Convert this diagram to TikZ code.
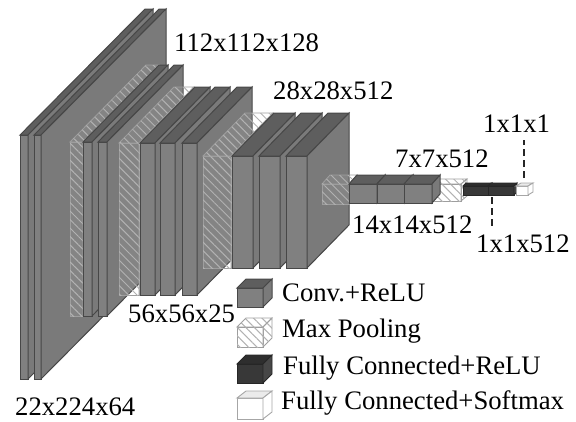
\documentclass[tikz,border=0pt]{standalone}
\usepackage{fontspec}
\setmainfont{Liberation Serif}
\usetikzlibrary{arrows.meta,positioning,patterns.meta}

% x y w h dx dy kind
\newcommand{\slab}[7]{
  \path[#7front] (#1,#2) rectangle ++(#3,#4);
  \path[#7top] (#1,#2) -- ++(#5,-#6) -- ++(#3,0) -- ++(-#5,#6) -- cycle;
  \path[#7side] (#1+#3,#2) -- ++(#5,-#6) -- ++(0,#4) -- ++(-#5,#6) -- cycle;
}

\begin{document}
\begin{tikzpicture}[
    x=1pt, y=-1pt,
    convfront/.style={draw=black!72, line width=1pt, fill=black!50},
    convtop/.style={draw=black!72, line width=1pt, fill=black!63},
    convside/.style={draw=black!72, line width=1pt, fill=black!52},
    hatched/.style={draw=black!38, line width=0.8pt, fill=white, fill opacity=0.08,
                    postaction={pattern={Lines[angle=-45,distance=6pt,line width=1pt]},
                                pattern color=black!30, fill opacity=0.5}},
    poolfront/.style={hatched},
    pooltop/.style={hatched},
    poolside/.style={hatched},
    densefront/.style={draw=black!85, line width=0.9pt, fill=black!78},
    densetop/.style={draw=black!85, line width=0.9pt, fill=black!82},
    denseside/.style={draw=black!85, line width=0.9pt, fill=black!72},
    softfront/.style={draw=black!35, line width=0.9pt, fill=white},
    softtop/.style={draw=black!35, line width=0.9pt, fill=black!8},
    softside/.style={draw=black!35, line width=0.9pt, fill=white},
    lbl/.style={font=\fontsize{26.7}{29}\selectfont, anchor=west, inner sep=0pt},
    leader/.style={draw=black!85, line width=2pt, dash pattern=on 7pt off 4pt},
  ]
  \useasboundingbox (0,0) rectangle (576,421);

  % blocks, back to front
  \foreach \x/\w in {20/8,34/7}
    \slab{\x}{135}{\w}{244}{125}{126}{conv};
  \slab{70}{142}{13}{174}{76}{77}{pool}
  \foreach \x in {83,98}
    \slab{\x}{142}{9}{174}{76}{77}{conv};
  \slab{119}{143}{20}{152}{55}{56}{pool}
  \foreach \x in {140,160,182}
    \slab{\x}{143}{15}{152}{55}{56}{conv};
  \slab{203}{156}{28}{112}{42}{43}{pool}
  \foreach \x in {232,259,286}
    \slab{\x}{156}{21}{112}{42}{43}{conv};
  \slab{322}{184}{27}{20}{8}{9}{pool}
  \slab{432}{184}{29}{17}{6}{5}{pool}
  \foreach \x in {349,377,404}
    \slab{\x}{184}{28}{19}{8}{9}{conv};
  \foreach \x in {463,488}
    \slab{\x}{186}{26}{9}{3}{3}{dense};
  \slab{516}{186}{12}{9}{5}{3}{soft}

  % dashed leaders
  \coordinate (softtip) at (524,178);
  \coordinate (softend) at (524,140);
  \coordinate (densetip) at (492,197);
  \coordinate (denseend) at (492,227);
  \draw[leader] (softtip) -- (softend);
  \draw[leader] (densetip) -- (denseend);

  % sizes
  \node[lbl] (s112) at (174,43) {112x112x128};
  \node[lbl] (s28) at (273,91) {28x28x512};
  \node[lbl] (s1) at (483,124) {1x1x1};
  \node[lbl] (s7) at (395,159) {7x7x512};
  \node[lbl] (s14) at (352,225) {14x14x512};
  \node[lbl] (s512) at (476,244) {1x1x512};
  \node[lbl] (s56) at (128,314) {56x56x25};
  \node[lbl] (s22) at (15,407) {22x224x64};

  % legend
  \slab{237}{288}{26}{19}{9}{9}{conv}
  \slab{237}{327}{26}{20}{9}{9}{pool}
  \slab{237}{364}{26}{19}{9}{9}{dense}
  \slab{237}{398}{26}{21}{9}{7}{soft}
  \node[lbl] (conv) at (282,293) {Conv.+ReLU};
  \node[lbl] (pool) at (282,331) {Max Pooling};
  \node[lbl] (fcrelu) at (283,368) {Fully Connected+ReLU};
  \node[lbl] (fcsoft) at (281,403) {Fully Connected+Softmax};
\end{tikzpicture}
\end{document}
